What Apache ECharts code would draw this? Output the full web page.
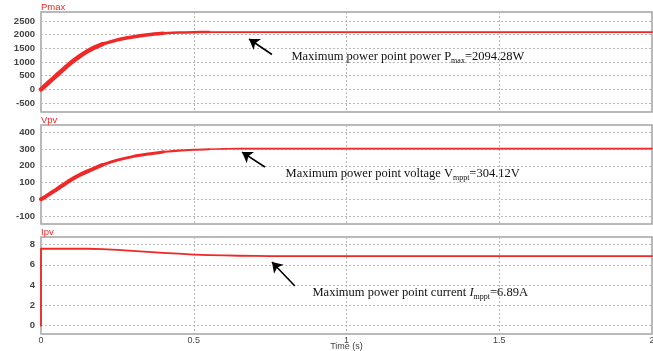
<!DOCTYPE html>
<html><head><meta charset="utf-8">
<script src="https://cdn.jsdelivr.net/npm/echarts@6/dist/echarts.min.js"></script>
<style>html,body{margin:0;padding:0;background:#fff}#c{width:653px;height:351px}</style>
</head><body><div id="c"></div>
<script>
// ---- data ----
const TIME_P = [0, 0.025, 0.05, 0.075, 0.1, 0.125, 0.15, 0.175, 0.2, 0.25, 0.3, 0.35, 0.4, 0.45, 0.5, 0.55, 0.6, 2];
const PMAX   = [0, 250, 500, 750, 990, 1200, 1380, 1530, 1650, 1810, 1915, 1995, 2050, 2080, 2092, 2094, 2094, 2094];

const TIME_V = [0, 0.025, 0.05, 0.075, 0.1, 0.125, 0.15, 0.2, 0.25, 0.3, 0.35, 0.4, 0.45, 0.5, 0.55, 0.6, 0.65, 2];
const VPV    = [0, 28, 58, 88, 118, 143, 165, 205, 234, 255, 270, 283, 291, 296, 299, 301, 303, 303];

const TIME_I = [0, 0, 0.1, 0.15, 0.2, 0.25, 0.3, 0.35, 0.4, 0.45, 0.5, 0.55, 0.6, 0.65, 0.7, 0.75, 2];
const IPV    = [0, 7.59, 7.59, 7.59, 7.56, 7.48, 7.39, 7.29, 7.19, 7.10, 7.02, 6.97, 6.93, 6.90, 6.88, 6.87, 6.87];

const P_TICKS = [-500, 0, 500, 1000, 1500, 2000, 2500];
const V_TICKS = [-100, 0, 100, 200, 300, 400];
const I_TICKS = [0, 2, 4, 6, 8];

const PANEL_NAMES = ['Pmax', 'Vpv', 'Ipv'];

// annotation anchors (data coords): [tail], [head], [text]
const P_ARROW = [[0.756, 1274], [0.681, 1842]];
const P_TEXT  = [0.818, 1183];
const V_ARROW = [[0.733, 193], [0.658, 282]];
const V_TEXT  = [0.799, 151];
const I_ARROW = [[0.831, 3.92], [0.756, 6.28]];
const I_TEXT  = [0.887, 3.23];

// ---- styling ----
const RED = '#f02828';
const GRID_LINE = {color: '#b8b8b8', type: [2, 2], width: 1};
const SERIF = 'Liberation Serif, Times New Roman, serif';
const SANS = 'Liberation Sans, Arial, sans-serif';
const TEXT_RICH = {
  n: {fontFamily: SERIF, fontSize: 12.5, color: '#111', lineHeight: 16, verticalAlign: 'middle'},
  i: {fontFamily: SERIF, fontSize: 12.5, color: '#111', fontStyle: 'italic', lineHeight: 16, verticalAlign: 'middle'},
  s: {fontFamily: SERIF, fontSize: 8, color: '#111', lineHeight: 8, verticalAlign: 'bottom'}
};

const grids = [
  {left: 41, right: 1, top: 12, height: 100},
  {left: 41, right: 1, top: 125, height: 99},
  {left: 41, right: 1, top: 237, height: 97}
].map(g => Object.assign(g, {show: true, borderColor: '#a3a3a3', borderWidth: 1.5, containLabel: false, outerBoundsMode: 'none'}));

const yRanges = [[-830, 2830, P_TICKS], [-148, 444, V_TICKS], [-0.82, 8.75, I_TICKS]];

const yAxes = yRanges.map((r, i) => ({
  gridIndex: i, type: 'value', min: r[0], max: r[1],
  axisLine: {show: false},
  axisTick: {show: false, customValues: r[2]},
  axisLabel: {customValues: r[2], formatter: v => String(v), color: '#444', fontSize: 9.5, fontWeight: 'bold', fontFamily: SANS, margin: 6},
  splitLine: {show: true, lineStyle: GRID_LINE}
}));

const xAxes = [0, 1, 2].map(i => ({
  gridIndex: i, type: 'value', min: 0, max: 2, interval: 0.5,
  axisLine: {show: false}, axisTick: {show: false},
  axisLabel: {show: i === 2, color: '#444', fontSize: 9, fontFamily: SANS, margin: 2},
  splitLine: {show: true, lineStyle: GRID_LINE},
  name: i === 2 ? 'Time (s)' : '', nameLocation: 'middle', nameGap: 8, nameMoveOverlap: false,
  nameTextStyle: {fontSize: 9, color: '#444', fontFamily: SANS}
}));

function segments(times, vals, widths, idx) {
  const out = [];
  let start = 0;
  widths.forEach(([tEnd, w]) => {
    const pts = [];
    for (let k = 0; k < times.length; k++) {
      if (times[k] >= start && times[k] <= tEnd) pts.push([times[k], vals[k]]);
    }
    out.push({
      type: 'line', xAxisIndex: idx, yAxisIndex: idx, data: pts, symbol: 'none', silent: true, smooth: 0.3,
      lineStyle: {color: RED, width: w, cap: 'round', join: 'round'}, z: 3
    });
    start = tEnd;
  });
  return out;
}

function annotate(series, arrow, textAt, fmt) {
  series.markLine = {
    silent: true, symbol: ['none', 'arrow'], symbolSize: 10,
    lineStyle: {color: '#000', width: 1.6, type: 'solid'},
    itemStyle: {color: '#000'},
    label: {show: false},
    data: [[{coord: arrow[0]}, {coord: arrow[1]}]]
  };
  series.markPoint = {
    silent: true, symbol: 'circle', symbolSize: 1, itemStyle: {color: 'rgba(0,0,0,0)'},
    data: [{coord: textAt}],
    label: {show: true, position: 'right', distance: 0, formatter: fmt, rich: TEXT_RICH}
  };
}

const pSeries = segments(TIME_P, PMAX, [[0.2, 4.5], [0.4, 3.5], [0.55, 2.5], [2, 1.8]], 0);
const vSeries = segments(TIME_V, VPV, [[0.2, 4], [0.4, 3], [0.55, 2.2], [2, 1.6]], 1);
const iSeries = segments(TIME_I, IPV, [[2, 1.8]], 2);
iSeries[0].smooth = false;

annotate(pSeries[pSeries.length - 1], P_ARROW, P_TEXT, '{n|Maximum power point power P}{s|max}{n|=2094.28W}');
annotate(vSeries[vSeries.length - 1], V_ARROW, V_TEXT, '{n|Maximum power point voltage V}{s|mppt}{n|=304.12V}');
annotate(iSeries[iSeries.length - 1], I_ARROW, I_TEXT, '{n|Maximum power point current }{i|I}{s|mppt}{n|=6.89A}');

const chart = echarts.init(document.getElementById('c'), null, {renderer: 'canvas'});
chart.setOption({
  animation: false,
  backgroundColor: '#fff',
  grid: grids,
  xAxis: xAxes,
  yAxis: yAxes,
  graphic: PANEL_NAMES.map((name, i) => ({
    type: 'text', left: 41, top: [2, 115, 227][i],
    style: {text: name, fill: RED, font: '9.5px ' + SANS}
  })),
  series: [].concat(pSeries, vSeries, iSeries)
});
</script>
</body></html>
